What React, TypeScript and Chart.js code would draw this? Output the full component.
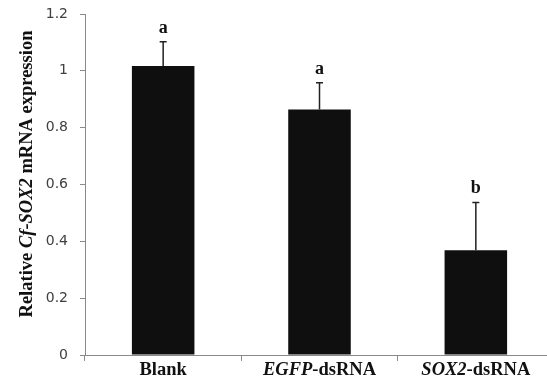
import React, { useEffect, useRef } from "react";
import { Chart, registerables } from "chart.js";

Chart.register(...registerables);

const categories = ["Blank", "EGFP-dsRNA", "SOX2-dsRNA"];
// label parts: [text, italic]
const categoryParts: [string, boolean][][] = [
  [["Blank", false]],
  [["EGFP", true], ["-dsRNA", false]],
  [["SOX2", true], ["-dsRNA", false]],
];
const values = [1.017, 0.864, 0.369];
const errors = [0.085, 0.094, 0.168];
const letters = ["a", "a", "b"];
const yTickLabels = ["0", "0.2", "0.4", "0.6", "0.8", "1", "1.2"];
const yTitleParts: [string, boolean][] = [
  ["Relative ", false],
  ["Cf-SOX2", true],
  [" mRNA expression", false],
];

const SERIF = "'Liberation Serif', 'Times New Roman', serif";

function drawParts(ctx: CanvasRenderingContext2D, parts: [string, boolean][], size: number, cx: number, y: number) {
  const fonts = parts.map(([, it]) => `${it ? "italic " : ""}bold ${size}px ${SERIF}`);
  let total = 0;
  const widths = parts.map(([t], i) => {
    ctx.font = fonts[i];
    const w = ctx.measureText(t).width;
    total += w;
    return w;
  });
  let x = cx - total / 2;
  ctx.textAlign = "left";
  parts.forEach(([t], i) => {
    ctx.font = fonts[i];
    ctx.fillText(t, x, y);
    x += widths[i];
  });
}

const annotPlugin = {
  id: "annot",
  afterDatasetsDraw(chart: any) {
    const ctx: CanvasRenderingContext2D = chart.ctx;
    const meta = chart.getDatasetMeta(0);
    const yScale = chart.scales.y;
    const xScale = chart.scales.x;
    ctx.save();
    meta.data.forEach((bar: any, i: number) => {
      const x = bar.x;
      const top = yScale.getPixelForValue(values[i]);
      const errTop = yScale.getPixelForValue(values[i] + errors[i]);
      ctx.strokeStyle = "#222";
      ctx.lineWidth = 1.5;
      ctx.beginPath();
      ctx.moveTo(x, top);
      ctx.lineTo(x, errTop);
      ctx.moveTo(x - 3.5, errTop);
      ctx.lineTo(x + 3.5, errTop);
      ctx.stroke();
      ctx.fillStyle = "#111";
      ctx.textBaseline = "alphabetic";
      drawParts(ctx, [[letters[i], false]], 18, x, errTop - 9);
      // x labels
      drawParts(ctx, categoryParts[i], 18.5, xScale.getPixelForValue(i), 375);
    });
    // y title
    ctx.translate(32, 174);
    ctx.rotate(-Math.PI / 2);
    ctx.textBaseline = "alphabetic";
    drawParts(ctx, yTitleParts, 18.5, 0, 0);
    ctx.restore();
  },
};

export default function App() {
  const ref = useRef<HTMLCanvasElement>(null);
  useEffect(() => {
    document.body.style.overflow = "hidden";
    const chart = new Chart(ref.current!, {
      type: "bar",
      data: {
        labels: categories,
        datasets: [
          {
            data: values,
            backgroundColor: "#0f0f0f",
            borderColor: "#555",
            borderWidth: 0,
            barPercentage: 0.8,
            categoryPercentage: 0.5,
          },
        ],
      },
      options: {
        responsive: false,
        animation: false,
        layout: { padding: { left: 0, top: 14, right: 6, bottom: 0 } },
        plugins: { legend: { display: false }, tooltip: { enabled: false } },
        scales: {
          x: {
            grid: { display: true, offset: true, drawOnChartArea: false, tickLength: 6, color: "#8a8a8a" },
            border: { display: true, color: "#8a8a8a", width: 1 },
            ticks: { display: false },
            afterFit: (s: any) => {
              s.height = 30;
            },
          },
          y: {
            min: 0,
            max: 1.2,
            grid: { display: true, drawOnChartArea: false, tickLength: 5, color: "#8a8a8a" },
            border: { display: true, color: "#8a8a8a", width: 1 },
            ticks: {
              stepSize: 0.2,
              color: "#404040",
              padding: 12,
              font: { family: "'DejaVu Sans', sans-serif", size: 14 },
              callback: (_v: any, i: number) => yTickLabels[i],
            },
            afterFit: (s: any) => {
              s.width = 85;
              s.paddingTop = 0;
              s.paddingBottom = 0;
            },
          },
        },
      },
      plugins: [annotPlugin],
    });
    return () => chart.destroy();
  }, []);
  return (
    <div style={{ position: "fixed", left: 0, top: 0, width: 547, height: 385, overflow: "hidden", background: "#fff" }}>
      <canvas ref={ref} width={560} height={385} style={{ display: "block" }} />
    </div>
  );
}
